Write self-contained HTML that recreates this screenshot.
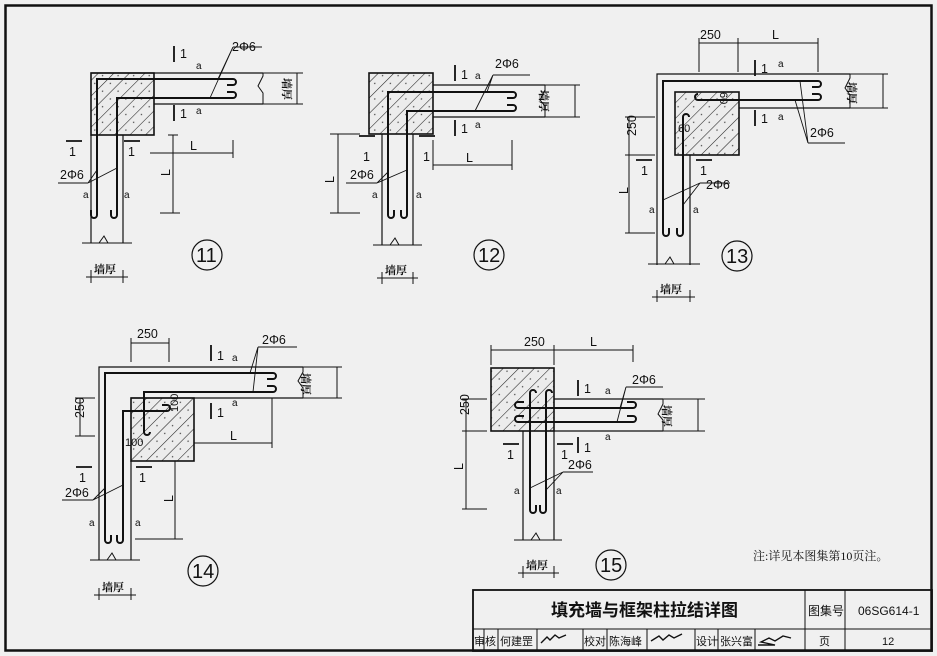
<!DOCTYPE html>
<html><head><meta charset="utf-8"><style>
html,body{margin:0;padding:0;background:#f0f0f0;}
svg{display:block;}
text{font-family:"Liberation Sans","Noto Sans CJK SC",sans-serif;fill:#111;}
.cj{font-family:"Liberation Serif","Noto Serif CJK SC","Noto Sans CJK SC",serif;}
</style></head><body>
<svg width="937" height="656" viewBox="0 0 937 656" xmlns="http://www.w3.org/2000/svg">
<defs>
<pattern id="h" patternUnits="userSpaceOnUse" width="11" height="11" patternTransform="rotate(45)">
<rect width="11" height="11" fill="#ececec"/>
<line x1="0" y1="0" x2="0" y2="11" stroke="#222" stroke-width="1.1"/>
<circle cx="5" cy="3" r="0.7" fill="#444"/>
</pattern>
</defs>
<rect width="937" height="656" fill="#f0f0f0"/>
<rect x="5.5" y="5.5" width="926" height="645" fill="none" stroke="#111" stroke-width="2.5"/>

<g fill="none" stroke="#111" stroke-width="1.2">
<!-- ========== 11 ========== -->
<rect x="91" y="73" width="63" height="62" fill="url(#h)" stroke-width="1.6"/>
<path d="M91 73 H263 M154 104 H263 M91 135 V243 M123 135 V243"/>
<path d="M263 73 V76 L258 86 L263 93 V104" stroke-width="1"/>
<path d="M82 243 H132 M99 243 L104 236 L108 243" stroke-width="1"/>
<path stroke-width="2" d="M97 215 V79 H233 A3 3 0 0 1 233 85 H227"/>
<path stroke-width="2" d="M117 215 V98 H233 A3 3 0 0 0 233 92 H227"/>
<path stroke-width="2" d="M97 215 A3 3 0 0 1 91 215 V210 M117 215 A3 3 0 0 1 111 215 V210"/>
<path d="M297 73 V104 M263 73 H303 M263 104 H303 M91 270 V283 M123 270 V283 M86 277 H128" stroke-width="1"/>
<path d="M154 153 H233 M233 140 V158 M150 153 h8 M173 135 V213 M160 213 H180 M168 135 h10" stroke-width="1"/>
<path d="M174 46 V62 M174 105 V121 M66 141 H82 M124 141 H140" stroke-width="1.8"/>
<path d="M233 47 H262 M233 47 L210 98 M233 47 L218 79 M58 183 H88 M88 183 L97 170 M88 183 L117 168" stroke-width="0.9"/>
<circle cx="207" cy="255" r="15"/>

<!-- ========== 12 ========== -->
<rect x="369" y="73" width="64" height="61" fill="url(#h)" stroke-width="1.6"/>
<path d="M433 85 H545 M433 117 H545 M382 134 V245 M413 134 V245"/>
<path d="M545 85 V90 L540 100 L545 106 V117" stroke-width="1"/>
<path d="M373 245 H422 M390 245 L395 238 L399 245" stroke-width="1"/>
<path stroke-width="2" d="M388 215 V92 H513 A3 3 0 0 1 513 98 H507"/>
<path stroke-width="2" d="M407 215 V111 H513 A3 3 0 0 0 513 105 H507"/>
<path stroke-width="2" d="M388 215 A3 3 0 0 0 394 215 V210 M407 215 A3 3 0 0 1 401 215 V210"/>
<path d="M575 85 V117 M545 85 H580 M545 117 H580 M382 272 V284 M413 272 V284 M377 278 H418" stroke-width="1"/>
<path d="M433 165 H512 M512 140 V170 M338 134 V213 M330 134 H360 M330 213 H360 M433 140 V170" stroke-width="1"/>
<path d="M455 65 V81 M455 120 V136 M359 136 H375 M419 136 H435" stroke-width="1.8"/>
<path d="M493 75 H530 M493 75 L475 111 M493 75 L487 92 M346 183 H377 M377 183 L388 172 M377 183 L407 170" stroke-width="0.9"/>
<circle cx="489" cy="255" r="15"/>

<!-- ========== 13 ========== -->
<rect x="675" y="92" width="64" height="63" fill="url(#h)" stroke-width="1.6"/>
<path d="M657 265 V74 H850 M739 108 H850 M690 155 V265"/>
<path d="M850 74 V78 L845 88 L850 95 V108" stroke-width="1"/>
<path d="M648 264 H700 M665 264 L670 257 L674 264" stroke-width="1"/>
<path stroke-width="2" d="M663 233 V81 H818 A3 3 0 0 1 818 87 H812"/>
<path stroke-width="2" d="M698 100 H818 A3 3 0 0 0 818 94 H812 M698 100 A3 3 0 0 1 698 94"/>
<path stroke-width="2" d="M683 233 V117 A3 3 0 0 1 689 117"/>
<path stroke-width="2" d="M663 233 A3 3 0 0 0 669 233 V228 M683 233 A3 3 0 0 1 677 233 V228"/>
<path d="M883 74 V108 M850 74 H888 M850 108 H888 M657 290 V302 M690 290 V302 M652 297 H695" stroke-width="1"/>
<path d="M699 43 H818 M699 38 V72 M738 38 V72 M818 38 V72 M629 117 V233 M625 117 H655 M625 155 H655 M625 233 H655" stroke-width="1"/>
<path d="M755 60 V76 M755 110 V126 M636 160 H652 M696 160 H712" stroke-width="1.8"/>
<path d="M808 143 H845 M808 143 L800 81 M808 143 L795 100 M730 183 H700 M700 183 L663 200 M700 183 L683 205" stroke-width="0.9"/>
<circle cx="737" cy="256" r="15"/>

<!-- ========== 14 ========== -->
<rect x="131" y="398" width="63" height="63" fill="url(#h)" stroke-width="1.6"/>
<path d="M99 560 V367 H303 M131 398 H303 M131 461 V560"/>
<path d="M303 367 V372 L298 381 L303 388 V398" stroke-width="1"/>
<path d="M90 560 H140 M107 560 L112 553 L116 560" stroke-width="1"/>
<path stroke-width="2" d="M105 540 V373 H273 A3 3 0 0 1 273 379 H267"/>
<path stroke-width="2" d="M144 432 V392 H273 A3 3 0 0 0 273 386 H267 M144 432 A3 3 0 0 0 150 432"/>
<path stroke-width="2" d="M123 540 V411 H167 A3 3 0 0 0 167 405 H162"/>
<path stroke-width="2" d="M105 540 A3 3 0 0 0 111 540 V535 M123 540 A3 3 0 0 1 117 540 V535"/>
<path d="M337 367 V398 M303 367 H342 M303 398 H342 M99 588 V600 M131 588 V600 M94 595 H136" stroke-width="1"/>
<path d="M131 343 H169 M131 338 V362 M169 338 V362 M80 398 V436 M75 398 H95 M75 436 H95 M194 443 H272 M272 398 V448 M175 461 V539 M135 539 H183" stroke-width="1"/>
<path d="M211 345 V361 M211 403 V419 M76 467 H92 M136 467 H152" stroke-width="1.8"/>
<path d="M258 347 H297 M258 347 L250 373 M258 347 L253 392 M62 500 H93 M93 500 L105 488 M93 500 L123 485" stroke-width="0.9"/>
<circle cx="203" cy="571" r="15"/>

<!-- ========== 15 ========== -->
<rect x="491" y="368" width="63" height="63" fill="url(#h)" stroke-width="1.6"/>
<path d="M554 399 H663 M554 431 H663 M523 431 V540 M554 431 V540"/>
<path d="M663 399 V404 L658 414 L663 420 V431" stroke-width="1"/>
<path d="M514 540 H562 M531 540 L536 533 L540 540" stroke-width="1"/>
<path stroke-width="2" d="M518 408 A3 3 0 0 1 518 402 H524 M518 408 H633 A3 3 0 0 0 633 402 H627"/>
<path stroke-width="2" d="M518 422 A3 3 0 0 1 518 416 H524 M518 422 H633 A3 3 0 0 0 633 416 H627"/>
<path stroke-width="2" d="M530 510 V393 A3 3 0 0 1 536 393 M546 510 V393 A3 3 0 0 1 552 393"/>
<path stroke-width="2" d="M530 510 A3 3 0 0 0 536 510 V505 M546 510 A3 3 0 0 1 540 510 V505"/>
<path d="M698 399 V431 M663 399 H705 M663 431 H705 M523 566 V578 M554 566 V578 M518 573 H559" stroke-width="1"/>
<path d="M491 350 H633 M491 345 V365 M554 345 V365 M633 345 V362 M466 399 V509 M462 399 H487 M462 431 H487 M462 509 H487" stroke-width="1"/>
<path d="M578 380 V396 M578 437 V453 M503 444 H519 M557 444 H573" stroke-width="1.8"/>
<path d="M626 387 H663 M626 387 L620 408 M626 387 L617 422 M563 472 H593 M563 472 L530 488 M563 472 L546 490" stroke-width="0.9"/>
<circle cx="611" cy="565" r="15"/>

<!-- title block -->
<rect x="473" y="590" width="459" height="61" stroke-width="1.8"/>
<path d="M473 629 H932 M805 590 V651 M845 590 V651 M484 629 V651 M498 629 V651 M537 629 V651 M583 629 V651 M607 629 V651 M647 629 V651 M695 629 V651 M718 629 V651 M755 629 V651" stroke-width="1"/>
<path d="M541 643 l6 -6 l3 3 l5 -5 l4 3 l7 -3 M651 641 l8 -5 l4 4 l6 -5 l5 3 l8 -4 M758 645 H775 l-14 -3 l8 -4 l6 3 l8 -5 l8 2" stroke-width="1.4"/>
</g>

<g font-size="12.5">
<!-- 11 -->
<text x="180" y="58">1</text><text x="180" y="118">1</text>
<text x="69" y="156">1</text><text x="128" y="156">1</text>
<text x="232" y="51">2Φ6</text><text x="60" y="179">2Φ6</text>
<text x="196" y="69" font-size="10">a</text><text x="196" y="114" font-size="10">a</text>
<text x="83" y="198" font-size="10">a</text><text x="124" y="198" font-size="10">a</text>
<text x="190" y="150">L</text><text x="166" y="180" transform="rotate(-90 166 176)">L</text>
<text x="94" y="273" class="cj" font-size="11" font-weight="bold">墙厚</text>
<text x="303" y="98" class="cj" font-size="11" font-weight="bold" transform="rotate(90 303 78)">墙厚</text>
<text x="196" y="262" font-size="20">11</text>
<!-- 12 -->
<text x="461" y="79">1</text><text x="461" y="133">1</text>
<text x="363" y="161">1</text><text x="423" y="161">1</text>
<text x="495" y="68">2Φ6</text><text x="350" y="179">2Φ6</text>
<text x="475" y="79" font-size="10">a</text><text x="475" y="128" font-size="10">a</text>
<text x="372" y="198" font-size="10">a</text><text x="416" y="198" font-size="10">a</text>
<text x="466" y="162">L</text><text x="330" y="187" transform="rotate(-90 330 183)">L</text>
<text x="385" y="274" class="cj" font-size="11" font-weight="bold">墙厚</text>
<text x="560" y="110" class="cj" font-size="11" font-weight="bold" transform="rotate(90 560 90)">墙厚</text>
<text x="478" y="262" font-size="20">12</text>
<!-- 13 -->
<text x="761" y="73">1</text><text x="761" y="123">1</text>
<text x="641" y="175">1</text><text x="700" y="175">1</text>
<text x="810" y="137">2Φ6</text><text x="706" y="189">2Φ6</text>
<text x="778" y="67" font-size="10">a</text><text x="778" y="120" font-size="10">a</text>
<text x="649" y="213" font-size="10">a</text><text x="693" y="213" font-size="10">a</text>
<text x="700" y="39">250</text><text x="772" y="39">L</text>
<text x="624" y="148" transform="rotate(-90 624 136)">250</text>
<text x="624" y="198" transform="rotate(-90 624 194)">L</text>
<text x="720" y="92" font-size="11" transform="rotate(90 720 92)">60</text>
<text x="678" y="132" font-size="11">60</text>
<text x="660" y="293" class="cj" font-size="11" font-weight="bold">墙厚</text>
<text x="868" y="102" class="cj" font-size="11" font-weight="bold" transform="rotate(90 868 82)">墙厚</text>
<text x="726" y="263" font-size="20">13</text>
<!-- 14 -->
<text x="217" y="360">1</text><text x="217" y="417">1</text>
<text x="79" y="482">1</text><text x="139" y="482">1</text>
<text x="262" y="344">2Φ6</text><text x="65" y="497">2Φ6</text>
<text x="232" y="361" font-size="10">a</text><text x="232" y="406" font-size="10">a</text>
<text x="89" y="526" font-size="10">a</text><text x="135" y="526" font-size="10">a</text>
<text x="137" y="338">250</text><text x="230" y="440">L</text>
<text x="74" y="428" transform="rotate(-90 74 418)">250</text>
<text x="169" y="506" transform="rotate(-90 169 502)">L</text>
<text x="170" y="400" font-size="11" transform="rotate(-90 180 402)">100</text>
<text x="125" y="446" font-size="11">100</text>
<text x="102" y="591" class="cj" font-size="11" font-weight="bold">墙厚</text>
<text x="322" y="393" class="cj" font-size="11" font-weight="bold" transform="rotate(90 322 373)">墙厚</text>
<text x="192" y="578" font-size="20">14</text>
<!-- 15 -->
<text x="584" y="393">1</text><text x="584" y="452">1</text>
<text x="507" y="459">1</text><text x="561" y="459">1</text>
<text x="632" y="384">2Φ6</text><text x="568" y="469">2Φ6</text>
<text x="605" y="394" font-size="10">a</text><text x="605" y="440" font-size="10">a</text>
<text x="514" y="494" font-size="10">a</text><text x="556" y="494" font-size="10">a</text>
<text x="524" y="346">250</text><text x="590" y="346">L</text>
<text x="459" y="425" transform="rotate(-90 459 415)">250</text>
<text x="459" y="474" transform="rotate(-90 459 470)">L</text>
<text x="526" y="569" class="cj" font-size="11" font-weight="bold">墙厚</text>
<text x="683" y="425" class="cj" font-size="11" font-weight="bold" transform="rotate(90 683 405)">墙厚</text>
<text x="600" y="572" font-size="20">15</text>
</g>

<text x="753" y="560" font-size="12" class="cj">注:详见本图集第10页注。</text>

<g class="cj">
<text x="551" y="616" font-size="17" font-weight="bold">填充墙与框架柱拉结详图</text>
<text x="808" y="615" font-size="12">图集号</text>
<text x="858" y="615" font-size="12">06SG614-1</text>
<text x="474" y="645" font-size="11" textLength="22">审核</text>
<text x="500" y="645" font-size="11">何建罡</text>
<text x="584" y="645" font-size="11">校对</text>
<text x="609" y="645" font-size="11">陈海峰</text>
<text x="696" y="645" font-size="11">设计</text>
<text x="720" y="645" font-size="11">张兴富</text>
<text x="819" y="645" font-size="11">页</text>
<text x="882" y="645" font-size="11">12</text>
</g>
</svg>
</body></html>
